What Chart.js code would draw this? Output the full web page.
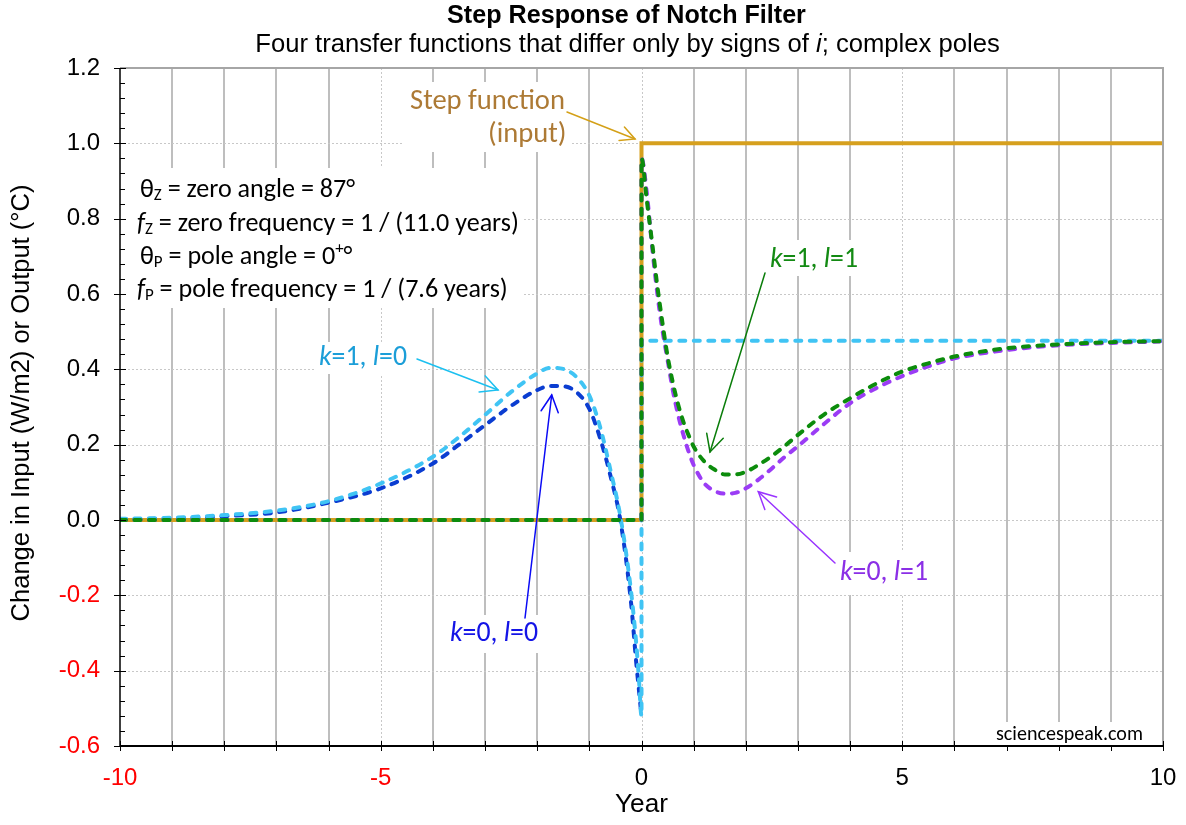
<!DOCTYPE html>
<html><head><meta charset="utf-8">
<style>html,body{margin:0;padding:0;background:#fff;}canvas{display:block;}</style>
<script src="https://cdn.jsdelivr.net/npm/chart.js@4.4.1/dist/chart.umd.min.js"></script>
</head><body>
<canvas id="c" width="1186" height="825"></canvas>
<script>
// ---------------- DATA ----------------
const xTickValues = [-10, -5, 0, 5, 10];
const yTickValues = [-0.6, -0.4, -0.2, 0, 0.2, 0.4, 0.6, 0.8, 1.0, 1.2];

// Step function (input)
const stepX = [-10, 0, 0, 10];
const stepY = [0, 0, 1, 1];

// k=1, l=1 (green)
const k1l1X = [-10, 0, 0, 0.1, 0.2, 0.3, 0.4, 0.5, 0.6, 0.7, 0.8, 0.9, 1.0, 1.2, 1.4, 1.6, 1.8, 2.0, 2.25, 2.5, 2.75, 3.0, 3.5, 4, 4.5, 5, 5.5, 6, 7, 8, 9, 10];
const k1l1Y = [0, 0, 0.96, 0.85, 0.74, 0.625, 0.525, 0.435, 0.365, 0.308, 0.262, 0.226, 0.195, 0.156, 0.134, 0.121, 0.121, 0.128, 0.147, 0.17, 0.197, 0.226, 0.28, 0.323, 0.362, 0.394, 0.416, 0.434, 0.456, 0.466, 0.472, 0.475];

// k=0, l=1 (purple)
const k0l1X = [-10, 0, 0, 0.1, 0.2, 0.3, 0.4, 0.5, 0.6, 0.7, 0.8, 0.9, 1.0, 1.2, 1.4, 1.6, 1.8, 2.0, 2.25, 2.5, 2.75, 3.0, 3.5, 4, 4.5, 5, 5.5, 6, 7, 8, 9, 10];
const k0l1Y = [0, 0, 0.96, 0.87, 0.73, 0.605, 0.505, 0.425, 0.345, 0.28, 0.228, 0.183, 0.146, 0.098, 0.077, 0.07, 0.072, 0.084, 0.108, 0.137, 0.168, 0.196, 0.255, 0.31, 0.35, 0.382, 0.408, 0.429, 0.451, 0.464, 0.47, 0.474];

// k=1, l=0 (light blue)
const k1l0X = [-10, -9, -8, -7, -6, -5, -4, -3.5, -3, -2.5, -2, -1.75, -1.5, -1.25, -1, -0.8, -0.6, -0.4, -0.2, -0.1, -0.05, 0, 0, 10];
const k1l0Y = [0.003, 0.006, 0.013, 0.025, 0.05, 0.097, 0.168, 0.22, 0.279, 0.34, 0.389, 0.404, 0.401, 0.38, 0.33, 0.25, 0.135, 0.005, -0.19, -0.33, -0.42, -0.52, 0.476, 0.476];

// k=0, l=0 (dark blue)
const k0l0X = [-10, -9, -8, -7, -6, -5, -4, -3.5, -3, -2.5, -2, -1.75, -1.5, -1.25, -1, -0.8, -0.6, -0.4, -0.2, -0.1, -0.05, 0];
const k0l0Y = [0.002, 0.004, 0.01, 0.02, 0.046, 0.084, 0.15, 0.2, 0.252, 0.303, 0.345, 0.356, 0.355, 0.34, 0.295, 0.22, 0.12, -0.005, -0.22, -0.38, -0.45, -0.52];

// ---------------- HELPERS ----------------
const pts = (xs, ys) => xs.map((x, i) => ({x: x, y: ys[i]}));
const ARIAL = '"Liberation Sans", Arial, sans-serif';
const CAL = 'Carlito, Lato, "Open Sans", sans-serif';

function runFont(r, size, fam) {
  const s = (r.sub || r.sup) ? size * 0.65 : size;
  return (r.i ? 'italic ' : '') + (r.b ? 'bold ' : '') + s.toFixed(2) + 'px ' + fam;
}
function runsWidth(ctx, runs, size, fam) {
  let w = 0;
  for (const r of runs) { ctx.font = runFont(r, size, fam); w += ctx.measureText(r.t).width; }
  return w;
}
function fitSize(ctx, runs, fam, target) { return 100 * target / runsWidth(ctx, runs, 100, fam); }
function drawRuns(ctx, runs, x, y, size, fam, color, align) {
  ctx.save();
  ctx.fillStyle = color; ctx.textBaseline = 'middle'; ctx.textAlign = 'left';
  let cx = x;
  const w = runsWidth(ctx, runs, size, fam);
  if (align === 'center') cx = x - w / 2;
  if (align === 'right') cx = x - w;
  for (const r of runs) {
    ctx.font = runFont(r, size, fam);
    const dy = r.sub ? size * 0.22 : (r.sup ? -size * 0.3 : 0);
    ctx.fillText(r.t, cx, y + dy);
    cx += ctx.measureText(r.t).width;
  }
  ctx.restore();
}
function arrow(ctx, x1, y1, x2, y2, color, lw, hl, ha) {
  ctx.save();
  ctx.strokeStyle = color; ctx.lineWidth = lw; ctx.setLineDash([]); ctx.lineCap = 'round';
  ctx.beginPath(); ctx.moveTo(x1, y1); ctx.lineTo(x2, y2); ctx.stroke();
  const a = Math.atan2(y1 - y2, x1 - x2);
  const r = ha * Math.PI / 180;
  ctx.beginPath();
  ctx.moveTo(x2 + hl * Math.cos(a + r), y2 + hl * Math.sin(a + r));
  ctx.lineTo(x2, y2);
  ctx.lineTo(x2 + hl * Math.cos(a - r), y2 + hl * Math.sin(a - r));
  ctx.stroke();
  ctx.restore();
}
function box(ctx, x0, y0, x1, y1) { ctx.save(); ctx.fillStyle = '#fff'; ctx.fillRect(x0, y0, x1 - x0, y1 - y0); ctx.restore(); }

const decor = {
  id: 'decor',
  beforeDraw(chart) {
    const c = chart.ctx; c.save(); c.fillStyle = '#fff'; c.fillRect(0, 0, chart.width, chart.height); c.restore();
  },
  beforeDatasetsDraw(chart) {
    const {ctx, chartArea: a, scales: {x, y}} = chart;
    ctx.save();
    for (let t = -9; t <= 9; t++) {
      const px = Math.round(x.getPixelForValue(t));
      ctx.beginPath();
      if (t % 5 === 0) {
        ctx.strokeStyle = '#C8C8C8'; ctx.lineWidth = 1; ctx.setLineDash([2, 2]);
        ctx.moveTo(px + 0.5, a.top); ctx.lineTo(px + 0.5, a.bottom);
      } else {
        ctx.strokeStyle = '#BEBEBE'; ctx.lineWidth = 2; ctx.setLineDash([]);
        ctx.moveTo(px, a.top); ctx.lineTo(px, a.bottom);
      }
      ctx.stroke();
    }
    ctx.strokeStyle = '#C8C8C8'; ctx.lineWidth = 1; ctx.setLineDash([2, 2]);
    for (const v of yTickValues) {
      if (v <= -0.6 || v >= 1.2) continue;
      const py = Math.round(y.getPixelForValue(v)) + 0.5;
      ctx.beginPath(); ctx.moveTo(a.left, py); ctx.lineTo(a.right, py); ctx.stroke();
    }
    ctx.restore();
  },
  afterDatasetsDraw(chart) {
    const {ctx, chartArea: a, scales: {x, y}} = chart;
    ctx.save();
    // frame
    ctx.setLineDash([]);
    ctx.strokeStyle = '#A6A6A6'; ctx.lineWidth = 2;
    ctx.beginPath(); ctx.moveTo(a.left, a.top); ctx.lineTo(a.right, a.top); ctx.lineTo(a.right, a.bottom); ctx.stroke();
    ctx.strokeStyle = '#000'; ctx.lineWidth = 1.5;
    ctx.beginPath(); ctx.moveTo(a.left, a.top); ctx.lineTo(a.left, a.bottom); ctx.stroke();
    ctx.lineWidth = 2;
    ctx.beginPath(); ctx.moveTo(a.left, a.bottom); ctx.lineTo(a.right, a.bottom); ctx.stroke();
    // y ticks
    ctx.lineWidth = 1;
    for (let i = 0; i <= 45; i++) {
      const v = -0.6 + i * 0.04;
      const py = Math.round(y.getPixelForValue(v)) + 0.5;
      ctx.beginPath();
      if (i % 5 === 0) { ctx.moveTo(a.left - 6, py); ctx.lineTo(a.left + 6, py); }
      else { ctx.moveTo(a.left, py); ctx.lineTo(a.left + 5, py); }
      ctx.stroke();
    }
    // x ticks
    for (let t = -10; t <= 10; t++) {
      const px = Math.round(x.getPixelForValue(t)) + 0.5;
      ctx.beginPath(); ctx.moveTo(px, a.bottom - 5); ctx.lineTo(px, a.bottom + 5); ctx.stroke();
    }
    // titles
    const tRuns = [{t: 'Step Response of Notch Filter', b: 1}];
    drawRuns(ctx, tRuns, 626.5, 16, fitSize(ctx, tRuns, ARIAL, 359), ARIAL, '#000', 'center');
    const sRuns = [{t: 'Four transfer functions that differ only by signs of '}, {t: 'i', i: 1}, {t: '; complex poles'}];
    drawRuns(ctx, sRuns, 627.5, 45, fitSize(ctx, sRuns, ARIAL, 745), ARIAL, '#000', 'center');
    const xr = [{t: 'Year'}];
    drawRuns(ctx, xr, 641.5, 805, fitSize(ctx, xr, ARIAL, 53), ARIAL, '#000', 'center');
    const yr = [{t: 'Change in Input (W/m2) or Output (°C)'}];
    const ys = fitSize(ctx, yr, ARIAL, 437);
    ctx.save(); ctx.translate(22, 403); ctx.rotate(-Math.PI / 2);
    drawRuns(ctx, yr, 0, 0, ys, ARIAL, '#000', 'center');
    ctx.restore();

    // parameter box
    box(ctx, 128, 168, 524, 308);
    const L1 = [{t: 'θ'}, {t: 'Z', sub: 1}, {t: ' = zero angle = 87°'}];
    const L2 = [{t: 'f', i: 1}, {t: 'Z', sub: 1}, {t: ' = zero frequency = 1 / (11.0 years)'}];
    const L3 = [{t: 'θ'}, {t: 'P', sub: 1}, {t: ' = pole angle = 0'}, {t: '+', sup: 1}, {t: '°'}];
    const L4 = [{t: 'f', i: 1}, {t: 'P', sub: 1}, {t: ' = pole frequency = 1 / (7.6 years)'}];
    const ps = fitSize(ctx, L2, CAL, 382);
    drawRuns(ctx, L1, 140, 190, ps, CAL, '#000');
    drawRuns(ctx, L2, 137, 224, ps, CAL, '#000');
    drawRuns(ctx, L3, 140, 257, ps, CAL, '#000');
    drawRuns(ctx, L4, 137, 290, ps, CAL, '#000');

    // step function label
    box(ctx, 402, 82, 572, 152);
    const sf1 = [{t: 'Step function'}];
    const sfs = fitSize(ctx, sf1, CAL, 155);
    drawRuns(ctx, sf1, 410, 102, sfs, CAL, '#AD7A35');
    drawRuns(ctx, [{t: '(input)'}], 488, 135, sfs, CAL, '#AD7A35');
    arrow(ctx, 567, 112, 635, 139, '#D4A017', 1.5, 16, 27);

    // k/l labels
    const kl = (k, l) => [{t: 'k', i: 1}, {t: '=' + k + ', '}, {t: 'l', i: 1}, {t: '=' + l}];
    const ks = fitSize(ctx, kl(1, 0), CAL, 88);
    box(ctx, 316, 342, 418, 374);
    drawRuns(ctx, kl(1, 0), 319, 358, ks, CAL, '#1B9ED8');
    arrow(ctx, 417, 359, 498, 390, '#1CC0F0', 1.5, 19, 27);

    box(ctx, 446, 615, 542, 653);
    drawRuns(ctx, kl(0, 0), 450, 634, ks, CAL, '#1414E6');
    arrow(ctx, 525, 618, 551.7, 395, '#0A0AF5', 1.5, 19, 27);

    box(ctx, 765, 240, 866, 276);
    drawRuns(ctx, kl(1, 1), 770, 260, ks, CAL, '#138A13');
    arrow(ctx, 765, 273, 710, 452, '#0A7D0A', 1.5, 19, 27);

    box(ctx, 832, 552, 935, 595);
    drawRuns(ctx, kl(0, 1), 840, 573, ks, CAL, '#8B2FE6');
    arrow(ctx, 835, 563, 758.3, 491.7, '#9933FF', 1.5, 19, 27);

    // watermark
    box(ctx, 990, 722, 1150, 745);
    const wr = [{t: 'sciencespeak.com'}];
    drawRuns(ctx, wr, 996, 735, fitSize(ctx, wr, CAL, 147), CAL, '#000');
    ctx.restore();
  }
};

const dash = {borderDash: [6, 8.5], borderCapStyle: 'round', borderWidth: 4, pointRadius: 0, fill: false, cubicInterpolationMode: 'monotone'};

new Chart(document.getElementById('c'), {
  type: 'line',
  data: {
    datasets: [
      Object.assign({label: 'k=1, l=1', data: pts(k1l1X, k1l1Y), borderColor: '#0C8C0C', order: 0}, dash),
      Object.assign({label: 'k=0, l=1', data: pts(k0l1X, k0l1Y), borderColor: '#9B3CF5', order: 1}, dash),
      Object.assign({label: 'k=1, l=0', data: pts(k1l0X, k1l0Y), borderColor: '#40C4F4', order: 2}, dash),
      Object.assign({label: 'k=0, l=0', data: pts(k0l0X, k0l0Y), borderColor: '#0B3DD1', order: 3}, dash),
      {label: 'Step', data: pts(stepX, stepY), borderColor: '#D6A01E', borderWidth: 4, pointRadius: 0, fill: false, tension: 0, order: 4}
    ]
  },
  options: {
    responsive: false, animation: false, devicePixelRatio: 1,
    layout: {padding: {top: 68, right: 23, bottom: 0, left: 0}},
    plugins: {legend: {display: false}, tooltip: {enabled: false}, title: {display: false}},
    scales: {
      x: {
        type: 'linear', min: -10, max: 10,
        afterBuildTicks: s => { s.ticks = xTickValues.map(v => ({value: v})); },
        afterFit: s => { s.height = 79; s.paddingLeft = 0; s.paddingRight = 0; },
        grid: {display: false, drawTicks: false}, border: {display: false},
        ticks: {autoSkip: false, maxRotation: 0, padding: 18, font: {family: ARIAL, size: 24},
          color: c => (c.tick && c.tick.value < 0) ? '#FF0000' : '#000000',
          callback: v => String(v)}
      },
      y: {
        type: 'linear', min: -0.6, max: 1.2,
        afterBuildTicks: s => { s.ticks = yTickValues.map(v => ({value: v})); },
        afterFit: s => { s.width = 120; s.paddingTop = 0; s.paddingBottom = 0; },
        grid: {display: false, drawTicks: false}, border: {display: false},
        ticks: {autoSkip: false, padding: 20, font: {family: ARIAL, size: 24},
          color: c => (c.tick && c.tick.value < -1e-9) ? '#FF0000' : '#000000',
          callback: v => (Math.abs(v) < 1e-9 ? 0 : v).toFixed(1)}
      }
    }
  },
  plugins: [decor]
});
</script>
</body></html>
